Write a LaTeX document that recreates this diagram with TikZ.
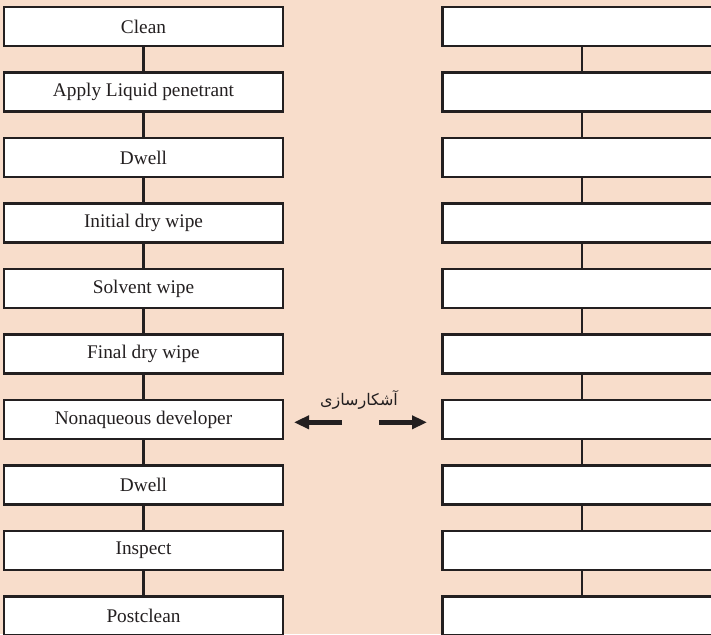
\documentclass[tikz,border=0pt]{standalone}
\usepackage{fontspec}
\setmainfont{Liberation Serif}
\usetikzlibrary{arrows.meta}
\TeXXeTstate=1
\newfontfamily\arabicfont[Script=Arabic]{DejaVu Sans}
\definecolor{bgpeach}{RGB}{248,221,203}
\definecolor{inkdark}{RGB}{35,31,32}
\tikzset{
  stepbox/.style={draw=inkdark, line width=2.3pt, fill=white, minimum width=279pt, minimum height=39pt, inner sep=0pt, outer sep=0pt, font=\fontsize{19.3}{21}\selectfont, text=inkdark},
  link/.style={draw=inkdark, line width=2.3pt},
  bigarrow/.style={draw=inkdark, line width=4.5pt, -{Triangle[length=15pt,width=13pt]}}
}
\begin{document}
\begin{tikzpicture}[x=1pt,y=-1pt]
\useasboundingbox (0,0) rectangle (711,634);
\clip (0,0) rectangle (711,634);
\fill[bgpeach] (0,0) rectangle (711,634);
% left and right columns
\foreach \i/\t in {0/Clean,1/Apply Liquid penetrant,2/Dwell,3/Initial dry wipe,4/Solvent wipe,5/Final dry wipe,6/Nonaqueous developer,7/Dwell,8/Inspect,9/Postclean}{
  \node[stepbox] (L\i) at (143.5,{26.5+65.5*\i}) {\t};
  \node[stepbox] (R\i) at (582,{26.5+65.5*\i}) {};
}
\foreach \i [evaluate=\i as \j using int(\i+1)] in {0,...,8}{
  \draw[link] (L\i.south) -- (L\j.north);
  \draw[link] (R\i.south) -- (R\j.north);
}
\node[font=\arabicfont\fontsize{16}{18}\selectfont, text=inkdark] (lab) at (359,400) {\beginR آشکارسازی\endR};
\coordinate (la) at (342,422.3);
\coordinate (lb) at (294,422.3);
\coordinate (ra) at (379,422.3);
\coordinate (rb) at (427,422.3);
\draw[bigarrow] (la) -- (lb);
\draw[bigarrow] (ra) -- (rb);
\end{tikzpicture}
\end{document}
